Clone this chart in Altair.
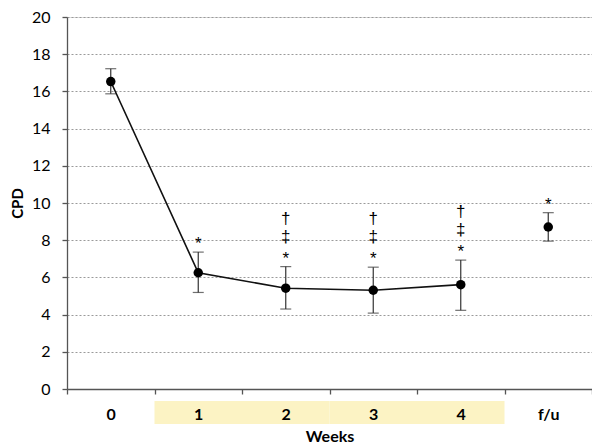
import altair as alt
import pandas as pd

weeks = ["0", "1", "2", "3", "4", "f/u"]
cpd_mean = [16.53, 6.25, 5.42, 5.31, 5.61, 8.71]
cpd_upper = [17.22, 7.36, 6.58, 6.55, 6.93, 9.48]
cpd_lower = [15.87, 5.19, 4.30, 4.08, 4.23, 7.95]
line_weeks = ["0", "1", "2", "3", "4"]
treatment_weeks = ["1", "2", "3", "4"]
ann_weeks = ["1", "2", "2", "2", "3", "3", "3", "4", "4", "4", "f/u"]
ann_symbols = ["*", "*", "‡", "†", "*", "‡", "†", "*", "‡", "†", "*"]
y_ticks = [0, 2, 4, 6, 8, 10, 12, 14, 16, 18, 20]

df = pd.DataFrame({"week": weeks, "mean": cpd_mean, "upper": cpd_upper, "lower": cpd_lower})
line_df = df[df["week"].isin(line_weeks)]
ann = pd.DataFrame({"week": ann_weeks, "symbol": ann_symbols}).merge(df[["week", "upper"]], on="week")
band_df = pd.DataFrame({"week": treatment_weeks})

FONT = "Lato"
xscale = alt.Scale(type="band", domain=weeks, paddingInner=0, paddingOuter=0)
yscale = alt.Scale(domain=[0, 20], nice=False)

xaxis = alt.Axis(title="Weeks", labelAngle=0, labelFontWeight="bold", labelFontSize=16,
                 labelFont=FONT, titleFont=FONT, tickBand="extent", tickSize=5,
                 labelPadding=12, titlePadding=6, titleFontSize=16, titleFontWeight="bold",
                 zindex=1, domainColor="#555555", tickColor="#555555", labelColor="#000000",
                 titleColor="#000000", grid=False, domainWidth=1.3, tickWidth=1.3)
yaxis = alt.Axis(title="CPD", values=y_ticks, labelFontSize=16, labelFont=FONT, titleFont=FONT,
                 titleFontSize=15, titleFontWeight="bold", tickSize=5, labelPadding=12,
                 titlePadding=6, domainColor="#555555", tickColor="#555555",
                 labelColor="#000000", titleColor="#000000", grid=True, gridColor="#9a9a9a",
                 gridDash=[2, 2], gridWidth=1, domainWidth=1.3, tickWidth=1.3)


def X():
    return alt.X("week:N", scale=xscale, sort=weeks, axis=xaxis)


def Y(field):
    return alt.Y(field, scale=yscale, axis=yaxis, title="CPD")


band = alt.Chart(band_df).mark_rect(color="#fcf3c4").encode(
    x=X(), y=alt.value(384), y2=alt.value(407))

rules = alt.Chart(df).mark_rule(color="#333333", strokeWidth=1.2).encode(
    x=X(), y=Y("lower:Q"), y2="upper:Q")
cap_top = alt.Chart(df).mark_tick(color="#333333", thickness=1.2, size=11).encode(
    x=X(), y=Y("upper:Q"))
cap_bot = alt.Chart(df).mark_tick(color="#333333", thickness=1.2, size=11).encode(
    x=X(), y=Y("lower:Q"))
line = alt.Chart(line_df).mark_line(color="#111111", strokeWidth=1.6).encode(
    x=X(), y=Y("mean:Q"))
points = alt.Chart(df).mark_circle(color="#000000", size=90, opacity=1).encode(
    x=X(), y=Y("mean:Q"))

texts = []
for sym, dy in [("*", -8), ("‡", -30), ("†", -48)]:
    texts.append(
        alt.Chart(ann).transform_filter(alt.datum.symbol == sym).mark_text(
            font="Liberation Sans", fontSize=17, dy=dy, baseline="middle"
        ).encode(x=X(), y=Y("upper:Q"), text="symbol:N", color=alt.value("#000000"))
    )

chart = alt.layer(band, rules, cap_top, cap_bot, line, points, *texts).properties(
    width=525, height=372,
    autosize=alt.AutoSizeParams(type="none"),
    padding={"left": 59, "top": 9, "right": 0, "bottom": 56},
).configure_view(strokeWidth=0).configure(background="#ffffff")

chart.save("out.html", embed_options={"renderer": "svg", "actions": False})
